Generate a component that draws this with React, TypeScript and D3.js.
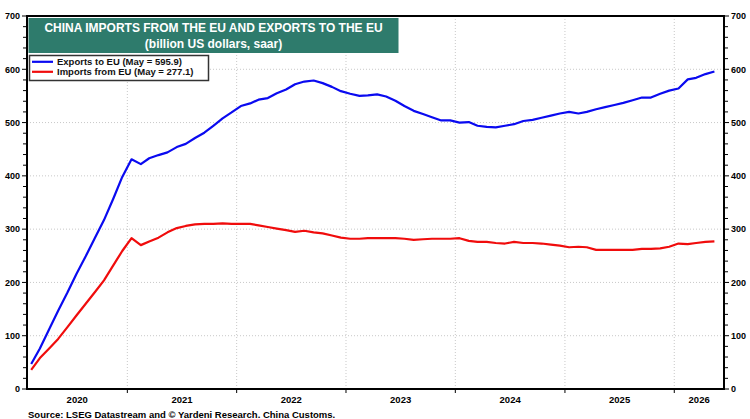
import * as d3 from 'd3';
import * as React from 'react';

// monthly, Feb 2020 .. May 2026 (billion US$, saar)
const firstMonth = { year: 2020, month: 1 };
const exportsToEU = [
  47, 76, 112, 147, 181, 216, 249, 284, 317, 357, 398,
  431, 422, 433, 439, 444, 454, 460, 471, 481, 494, 508, 519,
  531, 536, 543, 546, 555, 562, 572, 577, 579, 574, 567, 559,
  554, 550, 551, 553, 549, 541, 531, 522, 516, 510, 504, 504,
  500, 501, 494, 492, 491, 494, 497, 503, 505, 509, 513, 517,
  520, 517, 520, 525, 529, 533, 537, 542, 547, 547, 554, 560,
  564, 581, 584, 591, 595.9,
];
const importsFromEU = [
  36, 58, 76, 94, 116, 138, 160, 182, 204, 232, 259,
  283, 270, 277, 284, 294, 302, 306, 309, 310, 310, 311, 310,
  310, 310, 307, 304, 301, 298, 295, 297, 294, 292, 288, 284,
  282, 282, 283, 283, 283, 283, 282, 280, 281, 282, 282, 282,
  283, 278, 276, 276, 274, 273, 276, 274, 274, 273, 271, 269,
  266, 267, 266, 261, 261, 261, 261, 261, 263, 263, 264, 267,
  273, 272, 274, 276, 277.1,
];
const yearLabels = ['2020', '2021', '2022', '2023', '2024', '2025', '2026'];
const yTicks = [0, 100, 200, 300, 400, 500, 600, 700];
const titleLines = ['CHINA IMPORTS FROM THE EU AND EXPORTS TO THE EU', '(billion US dollars, saar)'];
const legendItems = [
  { label: 'Exports to EU (May = 595.9)', color: '#0a0af0' },
  { label: 'Imports from EU (May = 277.1)', color: '#f00c0c' },
];
const sourceNote = 'Source: LSEG Datastream and \u00a9 Yardeni Research. China Customs.';

const FONT = '"Liberation Sans", Arial, Helvetica, sans-serif';

const Chart = () => {
  const ref = React.useRef<SVGSVGElement | null>(null);

  React.useEffect(() => {
    if (!ref.current) return;
    const svg = d3.select(ref.current);
    svg.selectAll('*').remove();

    const margin = { top: 16, right: 26, bottom: 30, left: 27 };
    const width = 750;
    const height = 419;
    const x0 = margin.left;
    const x1 = width - margin.right;
    const y0 = height - margin.bottom;
    const y1 = margin.top;

    const xScale = d3
      .scaleTime()
      .domain([new Date(2020, 1, 1), new Date(2026, 5, 16)])
      .range([x0, x1]);
    const yScale = d3.scaleLinear().domain([0, 700]).range([y0, y1]);

    const dateAt = (i: number) => new Date(firstMonth.year, firstMonth.month + i, 15);

    // grid
    const grid = svg.append('g');
    grid
      .selectAll('line.h')
      .data(yTicks.filter((t) => t > 0 && t < 700))
      .join('line')
      .attr('x1', x0)
      .attr('x2', x1)
      .attr('y1', (d) => yScale(d))
      .attr('y2', (d) => yScale(d))
      .attr('stroke', '#c8c8c8')
      .attr('stroke-dasharray', '1,2');
    const yearStarts = yearLabels.slice(1).map((y) => new Date(+y, 0, 1));
    grid
      .selectAll('line.v')
      .data(yearStarts)
      .join('line')
      .attr('x1', (d) => xScale(d))
      .attr('x2', (d) => xScale(d))
      .attr('y1', y1)
      .attr('y2', y0)
      .attr('stroke', '#c8c8c8')
      .attr('stroke-dasharray', '1,2');

    // series
    const line = d3
      .line<number>()
      .x((_, i) => xScale(dateAt(i)))
      .y((d) => yScale(d));
    [exportsToEU, importsFromEU].forEach((series, k) => {
      svg
        .append('path')
        .datum(series)
        .attr('fill', 'none')
        .attr('stroke', legendItems[k].color)
        .attr('stroke-width', 2.2)
        .attr('stroke-linejoin', 'round')
        .attr('d', line);
    });

    // frame
    svg
      .append('rect')
      .attr('x', x0)
      .attr('y', y1)
      .attr('width', x1 - x0)
      .attr('height', y0 - y1)
      .attr('fill', 'none')
      .attr('stroke', '#000')
      .attr('stroke-width', 2);

    // y axes
    const minor = d3.range(0, 701, 20);
    const yAxes = svg.append('g').attr('stroke', '#000').attr('stroke-width', 1);
    minor.forEach((v) => {
      const len = v % 100 === 0 ? 5 : 4;
      yAxes.append('line').attr('x1', x0 - len).attr('x2', x0).attr('y1', yScale(v)).attr('y2', yScale(v));
      yAxes.append('line').attr('x1', x1).attr('x2', x1 + len).attr('y1', yScale(v)).attr('y2', yScale(v));
    });
    const labels = svg
      .append('g')
      .attr('font-family', FONT)
      .attr('font-weight', 'bold')
      .attr('font-size', 9)
      .attr('fill', '#000');
    yTicks.forEach((v) => {
      labels.append('text').attr('x', x0 - 7).attr('y', yScale(v) + 3.3).attr('text-anchor', 'end').text(v);
      labels.append('text').attr('x', x1 + 7).attr('y', yScale(v) + 3.3).attr('text-anchor', 'start').text(v);
    });

    // x axis
    yearStarts.forEach((d) => {
      svg
        .append('line')
        .attr('x1', xScale(d))
        .attr('x2', xScale(d))
        .attr('y1', y0)
        .attr('y2', y0 + 4)
        .attr('stroke', '#000');
    });
    yearLabels.forEach((y) => {
      const a = Math.max(xScale(new Date(+y, 0, 1)), x0);
      const b = Math.min(xScale(new Date(+y + 1, 0, 1)), x1);
      labels
        .append('text')
        .attr('x', (a + b) / 2)
        .attr('y', y0 + 14)
        .attr('text-anchor', 'middle')
        .attr('font-size', 9.5)
        .text(y);
    });

    // title box
    svg
      .append('rect')
      .attr('x', 28.5)
      .attr('y', 18)
      .attr('width', 370)
      .attr('height', 35)
      .attr('fill', '#2e7b6c');
    titleLines.forEach((t, i) => {
      svg
        .append('text')
        .attr('x', 213.5)
        .attr('y', 31.5 + i * 16.5)
        .attr('text-anchor', 'middle')
        .attr('font-family', FONT)
        .attr('font-weight', 'bold')
        .attr('font-size', 12)
        .attr('fill', '#fff')
        .text(t);
    });

    // legend
    svg
      .append('rect')
      .attr('x', 29.5)
      .attr('y', 55.5)
      .attr('width', 179)
      .attr('height', 25)
      .attr('fill', '#fff')
      .attr('stroke', '#333')
      .attr('stroke-width', 1.5);
    legendItems.forEach((item, i) => {
      const ly = 61.8 + i * 10;
      svg.append('line').attr('x1', 32).attr('x2', 53).attr('y1', ly).attr('y2', ly).attr('stroke', item.color).attr('stroke-width', 2.2);
      svg
        .append('text')
        .attr('x', 57)
        .attr('y', ly + 3.3)
        .attr('font-family', FONT)
        .attr('font-weight', 'bold')
        .attr('font-size', 9.5)
        .attr('fill', '#111')
        .text(item.label);
    });

    // source
    svg
      .append('text')
      .attr('x', 28)
      .attr('y', 418)
      .attr('font-family', FONT)
      .attr('font-weight', 'bold')
      .attr('font-size', 9.5)
      .attr('fill', '#000')
      .text(sourceNote);
  }, []);

  return <svg ref={ref} width={750} height={419} style={{ display: 'block', background: '#fff' }} />;
};

const App = () => (
  <div style={{ position: 'absolute', left: 0, top: 0, width: 750, height: 419, background: '#fff' }}>
    <Chart />
  </div>
);

export default App;
